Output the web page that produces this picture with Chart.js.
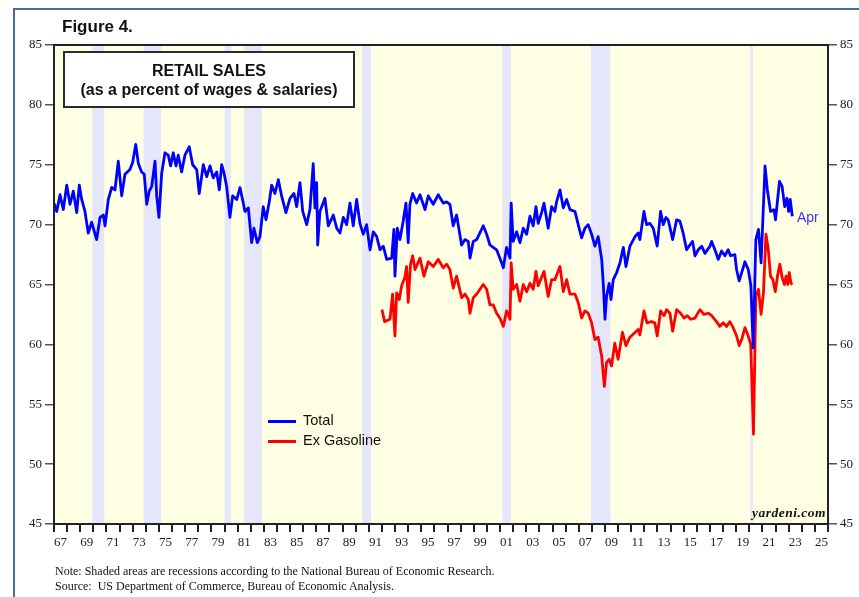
<!DOCTYPE html>
<html>
<head>
<meta charset="utf-8">
<script src="https://cdn.jsdelivr.net/npm/chart.js@4.4.0/dist/chart.umd.min.js"></script>
<style>
  html, body { margin:0; padding:0; background:#fff; }
  #wrap { position:relative; width:859px; height:597px; overflow:hidden; }
  canvas { position:absolute; left:0; top:0; }
  .frameline { position:absolute; left:13px; top:8px; width:900px; height:700px; border-left:2px solid #4b6a9c; border-top:2px solid #4b6a9c; }
  .txt { position:absolute; white-space:nowrap; }
  #fig { left:62px; top:17px; font:bold 17px "Liberation Sans", Arial, sans-serif; color:#111; }
  #titlebox { position:absolute; left:63px; top:51px; width:292px; height:57px; box-sizing:border-box; border:2px solid #2a2a2a; background:#fff; text-align:center; font:bold 16px "Liberation Sans", Arial, sans-serif; line-height:19px; padding-top:8px; color:#111; }
  .leg { position:absolute; font:14.5px "Liberation Sans", Arial, sans-serif; color:#111; }
  .legline { position:absolute; width:28px; height:3px; }
  #apr { left:797px; top:209px; font:14px "Liberation Sans", Arial, sans-serif; color:#3535ff; }
  #yard { left:752px; top:505px; font:italic bold 13.5px "Liberation Serif", "Times New Roman", serif; letter-spacing:0.5px; color:#111; }
  .note { left:55px; font:12px "Liberation Serif", "Times New Roman", serif; color:#111; }
</style>
</head>
<body>
<div id="wrap">
  <canvas id="c" width="859" height="597"></canvas>
  <div class="frameline"></div>
  <div class="txt" id="fig">Figure 4.</div>
  <div id="titlebox">RETAIL SALES<br>(as a percent of wages &amp; salaries)</div>
  <div class="legline" style="left:268px; top:420px; background:#0000ff;"></div>
  <div class="leg" style="left:303px; top:412px;">Total</div>
  <div class="legline" style="left:268px; top:440px; background:#ff0000;"></div>
  <div class="leg" style="left:303px; top:432px;">Ex Gasoline</div>
  <div class="txt" id="apr">Apr</div>
  <div class="txt" id="yard">yardeni.com</div>
  <div class="txt note" style="top:564px;">Note: Shaded areas are recessions according to the National Bureau of Economic Research.</div>
  <div class="txt note" style="top:579px;">Source:&nbsp; US Department of Commerce, Bureau of Economic Analysis.</div>
</div>
<script>
// ---- data ----
const totalYears = [
 1967.00,1967.21,1967.46,1967.71,1967.97,1968.22,1968.47,1968.73,1968.93,1969.11,1969.36,1969.61,1969.87,
 1970.25,1970.51,1970.76,1970.89,1971.14,1971.40,1971.65,1971.90,1972.16,1972.41,1972.79,1973.00,1973.23,
 1973.43,1973.68,1973.88,1974.07,1974.26,1974.45,1974.70,1974.83,1975.00,1975.21,1975.46,1975.71,1975.89,
 1976.09,1976.30,1976.47,1976.73,1976.98,1977.31,1977.57,1977.88,1978.07,1978.38,1978.64,1978.89,1979.14,
 1979.40,1979.60,1979.78,1979.96,1980.16,1980.41,1980.62,1980.93,1981.18,1981.56,1981.81,1982.07,1982.24,
 1982.50,1982.70,1982.95,1983.16,1983.41,1983.59,1983.84,1984.10,1984.35,1984.68,1984.99,1985.29,1985.50,
 1985.75,1985.96,1986.26,1986.51,1986.76,1986.89,1987.02,1987.10,1987.27,1987.65,1987.91,1988.29,1988.55,
 1988.80,1989.05,1989.31,1989.56,1989.81,1990.07,1990.32,1990.57,1990.83,1991.09,1991.34,1991.60,1991.85,
 1992.10,1992.36,1992.74,1992.91,1992.99,1993.17,1993.37,1993.62,1993.83,1994.00,1994.13,1994.34,1994.64,
 1994.90,1995.28,1995.53,1995.91,1996.29,1996.67,1996.93,1997.18,1997.43,1997.69,1998.07,1998.33,1998.58,
 1998.71,1998.96,1999.22,1999.72,1999.98,2000.23,2000.48,2000.74,2000.99,2001.25,2001.50,2001.76,2001.85,
 2002.00,2002.27,2002.52,2002.77,2003.03,2003.28,2003.53,2003.74,2003.91,2004.17,2004.35,2004.67,2004.93,
 2005.18,2005.31,2005.57,2005.82,2006.08,2006.33,2006.71,2006.96,2007.22,2007.47,2007.72,2007.98,2008.23,
 2008.48,2008.75,2008.87,2009.00,2009.12,2009.32,2009.46,2009.63,2009.89,2010.14,2010.40,2010.60,2010.90,
 2011.29,2011.53,2011.66,2011.97,2012.17,2012.43,2012.68,2012.98,2013.24,2013.44,2013.65,2013.82,2014.16,
 2014.46,2014.71,2014.96,2015.22,2015.47,2015.68,2015.86,2016.11,2016.37,2016.62,2017.00,2017.13,2017.38,
 2017.63,2017.89,2018.14,2018.39,2018.57,2018.90,2019.03,2019.23,2019.42,2019.67,2019.92,2020.12,2020.30,
 2020.50,2020.70,2020.90,2021.20,2021.38,2021.62,2021.88,2022.00,2022.30,2022.50,2022.70,2022.87,2023.00,
 2023.12,2023.28
];
const totalValues = [
 71.8,71.1,72.5,71.25,73.3,71.7,72.8,71.0,73.3,72.1,71.1,69.3,70.2,
 68.75,70.6,70.8,69.9,72.1,73.1,72.9,75.3,72.4,74.2,74.6,75.2,76.7,
 75.1,74.4,74.2,71.7,72.8,73.2,75.3,72.4,70.6,74.3,76.0,75.8,74.9,
 76.0,74.9,75.8,74.4,75.8,76.5,75.0,74.6,72.6,75.0,74.0,74.9,73.9,
 74.4,72.9,75.0,74.3,73.2,70.6,72.4,72.1,73.1,71.1,71.4,68.5,69.7,
 68.5,69.0,71.5,70.4,71.9,73.3,72.6,73.75,72.4,71.0,72.2,72.6,71.5,
 73.5,71.1,70.0,71.25,75.1,71.4,73.5,68.3,71.1,72.2,69.9,70.8,69.7,
 69.3,70.6,70.0,71.8,69.9,72.1,70.1,69.2,70.0,67.9,69.4,69.0,67.9,
 68.2,67.1,67.2,69.6,65.7,69.7,68.75,70.3,71.8,68.5,71.7,72.6,71.8,
 72.5,71.25,72.4,71.7,72.5,71.8,71.9,71.7,69.9,70.8,68.3,68.75,68.6,
 67.2,68.6,68.75,69.9,69.2,68.3,68.1,67.9,67.2,66.4,68.1,67.2,71.8,
 68.6,69.4,68.5,69.7,69.2,70.7,69.9,71.5,70.1,71.0,71.8,69.7,71.5,
 71.1,71.9,72.9,71.4,72.1,71.25,71.1,70.0,68.9,69.7,70.0,69.2,68.2,
 69.0,67.1,65.1,62.1,64.0,65.1,63.75,65.4,66.0,66.8,68.1,66.5,68.2,
 69.0,69.3,68.75,71.1,70.0,70.1,69.7,68.2,71.1,70.0,70.6,70.4,68.75,
 70.4,70.3,69.3,67.9,68.3,68.6,67.4,67.9,68.2,67.6,68.2,68.6,67.9,
 67.1,67.8,67.4,67.9,67.4,67.5,66.25,65.3,66.0,66.9,66.25,64.9,59.7,
 68.75,69.6,66.8,74.9,72.9,71.1,71.25,70.4,73.6,73.2,71.5,72.2,71.1,
 72.1,70.7
];
const exGasYears = [
 1992.00,1992.20,1992.61,1992.81,1992.99,1993.12,1993.32,1993.50,1993.75,1993.88,1994.00,1994.18,1994.34,
 1994.52,1994.90,1995.20,1995.53,1995.91,1996.29,1996.67,1996.93,1997.18,1997.43,1997.69,1998.07,1998.33,
 1998.58,1998.71,1998.96,1999.22,1999.72,1999.98,2000.23,2000.48,2000.74,2000.99,2001.25,2001.50,2001.76,
 2001.85,2002.00,2002.27,2002.52,2002.77,2003.03,2003.28,2003.53,2003.74,2003.91,2004.17,2004.35,2004.67,
 2004.93,2005.18,2005.57,2005.82,2006.08,2006.33,2006.71,2006.96,2007.22,2007.47,2007.72,2007.98,2008.23,
 2008.48,2008.75,2008.95,2009.12,2009.32,2009.50,2009.75,2010.00,2010.33,2010.60,2010.90,2011.29,2011.53,
 2011.66,2011.97,2012.20,2012.55,2012.80,2012.98,2013.24,2013.50,2013.70,2013.95,2014.16,2014.46,2014.77,
 2015.02,2015.27,2015.53,2015.86,2016.24,2016.54,2016.87,2017.13,2017.50,2017.75,2018.01,2018.27,2018.52,
 2018.77,2019.03,2019.23,2019.42,2019.67,2019.92,2020.11,2020.32,2020.50,2020.70,2020.90,2021.08,2021.27,
 2021.45,2021.62,2021.80,2021.98,2022.15,2022.33,2022.50,2022.68,2022.80,2022.93,2023.05,2023.18,2023.28
];
const exGasValues = [
 62.9,61.9,62.1,64.2,60.7,64.3,63.75,64.9,65.6,66.5,63.5,66.7,67.4,
 66.25,67.2,65.7,66.9,66.5,67.1,66.4,66.7,66.25,64.7,65.7,63.9,64.2,
 63.75,62.6,63.9,64.2,65.0,64.6,63.3,63.3,62.6,62.2,61.5,62.8,62.1,
 66.8,64.6,65.0,63.6,65.0,64.4,65.1,64.6,66.1,64.9,65.6,66.1,64.0,
 65.4,65.4,66.5,64.4,65.4,64.2,64.2,63.5,62.2,62.8,62.6,61.8,60.4,
 60.6,59.0,56.5,58.5,58.75,58.2,60.1,58.75,61.0,59.9,60.6,61.0,61.25,
 60.8,62.8,61.8,61.9,61.8,60.7,62.8,62.4,62.9,62.6,61.1,62.9,62.6,
 62.2,62.4,62.1,62.2,62.9,62.5,62.6,62.4,61.9,61.5,61.8,61.5,61.9,
 61.4,60.7,59.9,60.4,61.4,60.7,60.0,52.5,64.0,64.6,62.5,64.3,69.2,
 67.9,65.7,65.4,64.4,65.7,66.7,65.6,65.0,65.7,65.0,66.0,65.1,65.0
];
const recessionStarts = [1969.92, 1973.83, 1980.00, 1981.50, 1990.50, 2001.17, 2007.92, 2020.08];
const recessionEnds   = [1970.83, 1975.17, 1980.50, 1982.83, 1991.17, 2001.83, 2009.42, 2020.25];
const xLabelYears = [1967,1969,1971,1973,1975,1977,1979,1981,1983,1985,1987,1989,1991,1993,1995,1997,1999,
                     2001,2003,2005,2007,2009,2011,2013,2015,2017,2019,2021,2023,2025];
const yTicks = [45,50,55,60,65,70,75,80,85];

const X_MIN = 1967, X_MAX = 2026;
const yearTicks = [];
for (let y = X_MIN; y <= X_MAX; y++) yearTicks.push(y);

const serif = "'Liberation Serif', 'Times New Roman', serif";

const areaPlugin = {
  id: 'area',
  beforeDatasetsDraw(chart) {
    const { ctx, chartArea: a, scales } = chart;
    const xs = scales.x;
    ctx.save();
    ctx.fillStyle = '#ffffe3';
    ctx.fillRect(a.left, a.top, a.right - a.left, a.bottom - a.top);
    ctx.fillStyle = '#e6e6fa';
    recessionStarts.forEach((s, i) => {
      const x0 = xs.getPixelForValue(s);
      const x1 = xs.getPixelForValue(recessionEnds[i]);
      ctx.fillRect(x0, a.top, Math.max(x1 - x0, 2.5), a.bottom - a.top);
    });
    ctx.restore();
  },
  afterDatasetsDraw(chart) {
    const { ctx, chartArea: a } = chart;
    ctx.save();
    ctx.strokeStyle = '#222';
    ctx.lineWidth = 2;
    ctx.strokeRect(a.left, a.top, a.right - a.left, a.bottom - a.top);
    ctx.restore();
  }
};

const yCommon = {
  min: 45, max: 85,
  afterBuildTicks: s => { s.ticks = yTicks.map(v => ({ value: v })); },
  ticks: { font: { family: serif, size: 13 }, color: '#222', padding: 3 },
  grid: { drawOnChartArea: false, tickLength: 9, color: '#555', lineWidth: 1.5 },
  border: { display: false }
};

new Chart(document.getElementById('c'), {
  type: 'line',
  data: {
    datasets: [
      { label: 'Total', data: totalYears.map((x, i) => ({ x, y: totalValues[i] })),
        borderColor: '#0000ff', borderWidth: 2.8, pointRadius: 0, tension: 0, borderJoinStyle: 'round', xAxisID: 'x', yAxisID: 'y' },
      { label: 'Ex Gasoline', data: exGasYears.map((x, i) => ({ x, y: exGasValues[i] })),
        borderColor: '#ff0000', borderWidth: 2.8, pointRadius: 0, tension: 0, borderJoinStyle: 'round', xAxisID: 'x', yAxisID: 'y' }
    ]
  },
  options: {
    responsive: false,
    animation: false,
    layout: { padding: { top: 45, left: 0, right: 0, bottom: 0 } },
    plugins: { legend: { display: false }, tooltip: { enabled: false } },
    scales: {
      x: {
        type: 'linear', position: 'bottom', min: X_MIN, max: X_MAX, weight: 1,
        afterBuildTicks: s => { s.ticks = xLabelYears.map(v => ({ value: v + 0.5 })); },
        ticks: {
          autoSkip: false, maxRotation: 0, padding: 3,
          font: { family: serif, size: 13 }, color: '#222',
          callback: v => String(Math.floor(v) % 100).padStart(2, '0')
        },
        grid: { display: false, drawTicks: false, tickLength: 0 }, border: { display: false },
        afterFit: s => { s.height = 65; }
      },
      xt: {
        type: 'linear', position: 'bottom', min: X_MIN, max: X_MAX, weight: 0,
        afterBuildTicks: s => { s.ticks = yearTicks.map(v => ({ value: v })); },
        ticks: { display: false },
        grid: { drawOnChartArea: false, tickLength: 8, color: '#222', lineWidth: 2 },
        border: { display: false },
        afterFit: s => { s.height = 8; }
      },
      y: Object.assign({ position: 'left', afterFit: s => { s.width = 54; } }, yCommon),
      y2: Object.assign({ position: 'right', afterFit: s => { s.width = 31; } }, yCommon)
    }
  },
  plugins: [areaPlugin]
});
</script>
</body>
</html>
